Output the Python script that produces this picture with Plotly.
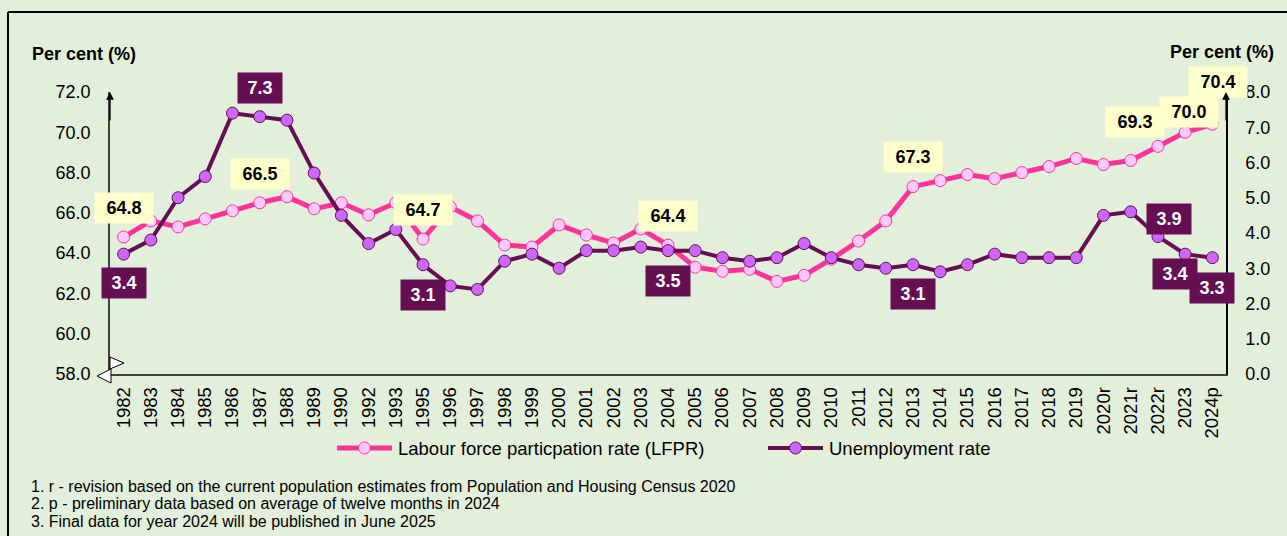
import plotly.graph_objects as go

years = ["1982", "1983", "1984", "1985", "1986", "1987", "1988", "1989", "1990", "1992",
         "1993", "1995", "1996", "1997", "1998", "1999", "2000", "2001", "2002", "2003",
         "2004", "2005", "2006", "2007", "2008", "2009", "2010", "2011", "2012", "2013",
         "2014", "2015", "2016", "2017", "2018", "2019", "2020r", "2021r", "2022r", "2023", "2024p"]
lfpr = [64.8, 65.6, 65.3, 65.7, 66.1, 66.5, 66.8, 66.2, 66.5, 65.9,
        66.5, 64.7, 66.3, 65.6, 64.4, 64.3, 65.4, 64.9, 64.5, 65.2,
        64.4, 63.3, 63.1, 63.2, 62.6, 62.9, 63.7, 64.6, 65.6, 67.3,
        67.6, 67.9, 67.7, 68.0, 68.3, 68.7, 68.4, 68.6, 69.3, 70.0, 70.4]
unemp = [3.4, 3.8, 5.0, 5.6, 7.4, 7.3, 7.2, 5.7, 4.5, 3.7,
         4.1, 3.1, 2.5, 2.4, 3.2, 3.4, 3.0, 3.5, 3.5, 3.6,
         3.5, 3.5, 3.3, 3.2, 3.3, 3.7, 3.3, 3.1, 3.0, 3.1,
         2.9, 3.1, 3.4, 3.3, 3.3, 3.3, 4.5, 4.6, 3.9, 3.4, 3.3]

left_ticks = [58, 60, 62, 64, 66, 68, 70, 72]
right_ticks = [0, 1, 2, 3, 4, 5, 6, 7, 8]

lfpr_name = "Labour force particpation rate (LFPR)"
unemp_name = "Unemployment rate"

lfpr_labelled = ["1982", "1987", "1995", "2004", "2013", "2022r", "2023", "2024p"]
lfpr_shift = [(0, 29), (0, 29), (0, 29), (0, 29), (0, 30), (-23, 24), (4, 20), (6, 42)]
unemp_labelled = ["1982", "1987", "1995", "2004", "2013", "2022r", "2023", "2024p"]
unemp_shift = [(0, -29), (0, 29), (0, -30), (0, -30), (0, -29), (11, 18), (-10, -20), (0, -30)]

footnotes = [
    "1. r - revision based on the current population estimates from Population and Housing Census 2020",
    "2. p - preliminary data based on average of twelve months in 2024",
    "3. Final data for year 2024 will be published in June 2025",
]

PINK = "#FF3399"
PINK_FILL = "#FFC8FF"
PURPLE = "#660E52"
PURPLE_FILL = "#CC66FF"
BG = "#E2EFDA"
FONT = "Arial, Liberation Sans, sans-serif"
NARROW = "Liberation Sans Narrow, Arial Narrow, Arial, sans-serif"

W, H = 1287, 536
L, R, T, B = 110, 61, 92, 162
PW, PH = W - L - R, H - T - B


def px(xp):
    return (xp - L) / PW


def py(yp):
    return (H - B - yp) / PH


fig = go.Figure()
fig.add_trace(go.Scatter(
    x=years, y=lfpr, name=lfpr_name, mode="lines+markers",
    line=dict(color=PINK, width=5),
    marker=dict(size=12, color=PINK_FILL, line=dict(color=PINK, width=1)),
    yaxis="y", cliponaxis=False, showlegend=False))
fig.add_trace(go.Scatter(
    x=years, y=unemp, name=unemp_name, mode="lines+markers",
    line=dict(color=PURPLE, width=4),
    marker=dict(size=12, color=PURPLE_FILL, line=dict(color=PURPLE, width=1)),
    yaxis="y2", cliponaxis=False, showlegend=False))

annotations = []
for yr, (dx, dy) in zip(lfpr_labelled, lfpr_shift):
    i = years.index(yr)
    v = lfpr[i]
    t = f"{v:.1f}"
    annotations.append(dict(
        x=i, y=v, xref="x", yref="y", text=f"<b>{t}</b>", showarrow=False,
        xshift=dx, yshift=dy, bgcolor="#FFFFCC", borderpad=3,
        width=14 * len(t) - 4, height=24,
        font=dict(family=FONT, size=18, color="#000000")))
for yr, (dx, dy) in zip(unemp_labelled, unemp_shift):
    i = years.index(yr)
    v = unemp[i]
    t = f"{v:.1f}"
    annotations.append(dict(
        x=i, y=v, xref="x", yref="y2", text=f"<b>{t}</b>", showarrow=False,
        xshift=dx, yshift=dy, bgcolor=PURPLE, borderpad=3,
        width=14 * len(t) - 4, height=24,
        font=dict(family=FONT, size=18, color="#FFFFFF")))

# axis titles
annotations.append(dict(x=px(30), y=py(54), xref="paper", yref="paper", xanchor="left",
                        yanchor="middle", showarrow=False, text="<b>Per cent (%)</b>",
                        font=dict(family=FONT, size=18, color="#000000")))
annotations.append(dict(x=px(1276), y=py(52), xref="paper", yref="paper", xanchor="right",
                        yanchor="middle", showarrow=False, text="<b>Per cent (%)</b>",
                        font=dict(family=FONT, size=18, color="#000000")))
# arrow heads at top of the value axes
for xx in (0, 1):
    annotations.append(dict(x=xx, y=1, xref="paper", yref="paper", ax=0, ay=30,
                            showarrow=True, arrowhead=2, arrowsize=1.2, arrowwidth=1.3,
                            arrowcolor="#000000", text=""))
# footnotes
for k, line in enumerate(footnotes):
    annotations.append(dict(x=px(29), y=py(486 + 17.5 * k), xref="paper", yref="paper",
                            xanchor="left", yanchor="middle", showarrow=False, text=line,
                            font=dict(family=FONT, size=16, color="#000000")))

# legend (drawn by hand so the symbol length matches)
LEG_Y = 448
legend_items = [(lfpr_name, PINK, PINK_FILL, 5, 337, 392),
                (unemp_name, PURPLE, PURPLE_FILL, 4, 768, 823)]
shapes = []
for name, lc, fc, lw, x0, x1 in legend_items:
    shapes.append(dict(type="line", xref="paper", yref="paper", x0=px(x0), x1=px(x1),
                       y0=py(LEG_Y), y1=py(LEG_Y), line=dict(color=lc, width=lw)))
    shapes.append(dict(type="circle", xref="paper", yref="paper", xsizemode="pixel",
                       ysizemode="pixel", xanchor=px((x0 + x1) / 2), yanchor=py(LEG_Y),
                       x0=-6, x1=6, y0=-6, y1=6, fillcolor=fc, line=dict(color=lc, width=1)))
    annotations.append(dict(x=px(x1 + 4), y=py(LEG_Y), xref="paper", yref="paper",
                            xanchor="left", yanchor="middle", showarrow=False, text=name,
                            font=dict(family=FONT, size=18.5, color="#000000")))

shapes += [
    dict(type="line", xref="paper", yref="paper", x0=px(8), x1=px(1300), y0=py(12), y1=py(12),
         line=dict(color="#000000", width=2)),
    dict(type="line", xref="paper", yref="paper", x0=px(8), x1=px(8), y0=py(12), y1=py(560),
         line=dict(color="#000000", width=2)),
    dict(type="path", xref="paper", yref="paper",
         path=f"M{px(110)},{py(357)} L{px(124)},{py(363)} L{px(110)},{py(369)} Z",
         fillcolor="#FFFFFF", line=dict(color="#000000", width=1)),
    dict(type="path", xref="paper", yref="paper",
         path=f"M{px(111)},{py(369)} L{px(97)},{py(376)} L{px(111)},{py(383)} Z",
         fillcolor="#FFFFFF", line=dict(color="#000000", width=1)),
]

fig.update_layout(
    width=W, height=H,
    margin=dict(l=L, r=R, t=T, b=B, autoexpand=False),
    paper_bgcolor=BG, plot_bgcolor=BG,
    font=dict(family=FONT, color="#000000"),
    showlegend=False,
    xaxis=dict(type="category", categoryorder="array", categoryarray=years,
               range=[-0.5, len(years) - 0.5], tickangle=-90, showline=True,
               linecolor="#404040", linewidth=1.5, ticks="", showgrid=False,
               ticklabelstandoff=4,
               tickfont=dict(family=NARROW, size=18.5, color="#000000")),
    yaxis=dict(range=[58, 72], tickvals=left_ticks, tickformat=".1f", showline=True,
               linecolor="#404040", linewidth=1.5, ticks="", showgrid=False, zeroline=False,
               ticklabelstandoff=14, tickfont=dict(family=FONT, size=18, color="#000000")),
    yaxis2=dict(range=[0, 8], tickvals=right_ticks, tickformat=".1f", overlaying="y",
                side="right", showline=True, linecolor="#000000", linewidth=1.5, ticks="",
                showgrid=False, zeroline=False, ticklabelstandoff=14,
                tickfont=dict(family=FONT, size=18, color="#000000")),
    annotations=annotations,
    shapes=shapes,
)

fig.write_html("out.html", config={"displayModeBar": False},
               post_script="document.body.style.margin='0';document.body.style.overflow='hidden';")
